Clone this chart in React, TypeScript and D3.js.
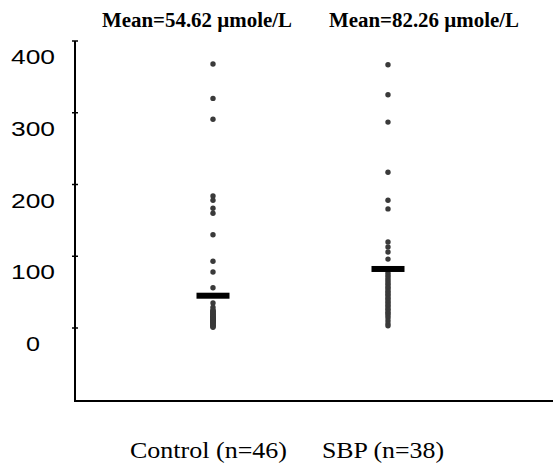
import React from "react";
import * as d3 from "d3";

const categories = ["Control", "SBP"];
const categoryLabels = ["Control (n=46)", "SBP (n=38)"];
const meanLabels = ["Mean=54.62 \u00b5mole/L", "Mean=82.26 \u00b5mole/L"];
// mean bar positions as drawn in the picture
const meanMarks = [45, 82.26];
const yTicks = [0, 100, 200, 300, 400];

const controlValues = [
  368, 320, 291, 184, 178, 167, 160, 130, 93, 78, 56, 35, 29,
  25, 24, 23, 22, 21, 20, 19, 18, 17, 16, 15, 15, 14, 14, 13, 13, 12, 12, 11,
  11, 10, 10, 9, 9, 8, 8, 7, 6, 5, 4, 3, 2, 1,
];
const sbpValues = [
  367, 325, 287, 217, 178, 166, 120, 113, 106, 96,
  77, 74, 71, 68, 65, 62, 60, 57, 55, 52, 50, 47, 45, 42, 40, 37, 35, 32, 30,
  27, 25, 22, 20, 17, 14, 10, 6, 3,
];
const seriesValues = [controlValues, sbpValues];

export default function App() {
  const W = 554;
  const H = 469;
  const axisX = 75;
  const y = d3.scaleLinear().domain([0, 400]).range([328, 41]);
  const x = d3.scalePoint<string>().domain(categories).range([213, 388]);
  const axisBottom = 401;

  return (
    <svg
      width={W}
      height={H}
      style={{ position: "absolute", left: 0, top: 0, background: "#fff" }}
    >
      {/* y axis */}
      <line x1={axisX} x2={axisX} y1={y(400)} y2={axisBottom} stroke="#000" strokeWidth={2} />
      <line x1={axisX - 1} x2={553} y1={axisBottom} y2={axisBottom} stroke="#000" strokeWidth={2} />
      {yTicks.map((t) => (
        <g key={t}>
          <line x1={axisX - 3} x2={axisX + 3} y1={y(t)} y2={y(t)} stroke="#000" strokeWidth={1.5} />
          <text
            x={33}
            y={y(t) + 23}
            textAnchor="middle"
            fontFamily="Liberation Sans, Arial, sans-serif"
            fontSize={21}
            textLength={t === 0 ? 14 : 44}
            lengthAdjust="spacingAndGlyphs"
            fill="#000"
          >
            {t}
          </text>
        </g>
      ))}
      {/* dots */}
      {categories.map((c, i) => (
        <g key={c}>
          {seriesValues[i].map((v, j) => (
            <circle key={j} cx={x(c)} cy={y(v)} r={2.7} fill="#3a3a3a" />
          ))}
          <rect
            x={(x(c) as number) - 16.5}
            y={y(meanMarks[i]) - 3}
            width={33}
            height={6}
            fill="#000"
          />
          <text
            x={(x(c) as number) - 111 + (i === 0 ? 0 : 52)}
            y={27}
            fontFamily="Liberation Serif, Times New Roman, serif"
            fontWeight="bold"
            fontSize={20}
            textLength={190}
            lengthAdjust="spacingAndGlyphs"
            fill="#000"
          >
            {meanLabels[i]}
          </text>
          <text
            x={(x(c) as number) - 83 + (i === 0 ? 0 : 17)}
            y={458}
            fontFamily="Liberation Serif, Times New Roman, serif"
            fontSize={23}
            textLength={i === 0 ? 157 : 122}
            lengthAdjust="spacingAndGlyphs"
            fill="#000"
          >
            {categoryLabels[i]}
          </text>
        </g>
      ))}
    </svg>
  );
}
